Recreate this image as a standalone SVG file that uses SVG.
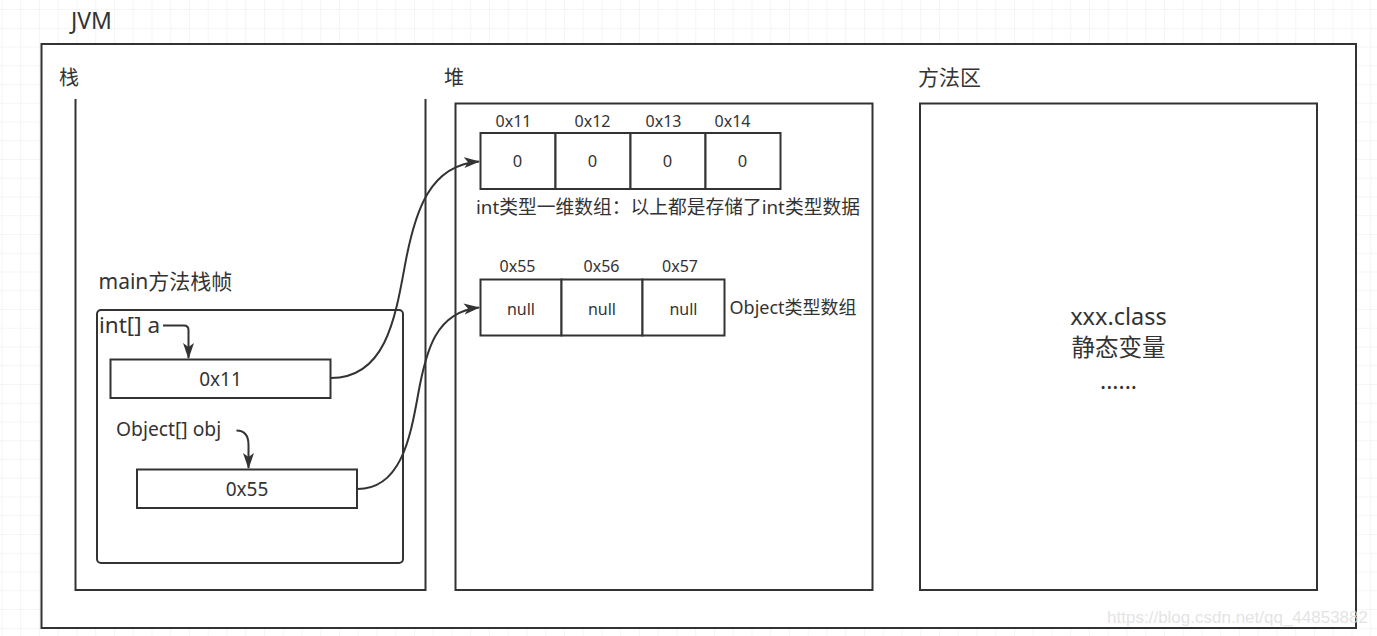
<svg xmlns="http://www.w3.org/2000/svg" width="1377" height="636" viewBox="0 0 1377 636">
<defs>
<pattern id="grid" x="1.5" y="9" width="18.75" height="18.75" patternUnits="userSpaceOnUse">
<path d="M18.75 0 L0 0 L0 18.75" fill="none" stroke="#ececec" stroke-width="1"/>
</pattern>
<marker id="arr" markerUnits="userSpaceOnUse" markerWidth="18" markerHeight="12" refX="15" refY="6" orient="auto" viewBox="0 0 18 12">
<path d="M0,0.5 L16,6 L0,11.5 L4,6 Z" fill="#333"/>
</marker>
<style>
.box{fill:#fff;stroke:#333;stroke-width:2}
.ln{fill:none;stroke:#333;stroke-width:2}
.t{font-family:"Noto Sans","Noto Sans CJK SC",sans-serif;fill:#333}
.m{text-anchor:middle}
.edge{fill:none;stroke:#333;stroke-width:2;marker-end:url(#arr)}
</style>
</defs>
<rect width="1377" height="636" fill="#fff"/>
<rect width="1377" height="636" fill="url(#grid)"/>

<g id="jvm">
<rect class="box" x="41.5" y="44" width="1314.5" height="584"/>
<text class="t" x="71" y="29" font-size="23">JVM</text>
</g>

<g id="stack">
<path class="ln" d="M75.5,99 L75.5,590 L425.5,590 L425.5,99"/>
<text class="t" x="59" y="85" font-size="20">栈</text>
</g>

<g id="frame">
<rect class="ln" x="97" y="310" width="306" height="253" rx="4"/>
<text class="t" x="98.5" y="289" font-size="21">main方法栈帧</text>
</g>

<g id="var-a">
<text class="t" x="99" y="333" font-size="22.5">int[] a</text>
</g>
<g id="box-0x11">
<rect class="box" x="110.5" y="359.5" width="220" height="38.5"/>
<text class="t m" x="220.5" y="386" font-size="19">0x11</text>
</g>
<g id="var-obj">
<text class="t" x="116" y="436" font-size="19.3">Object[] obj</text>
</g>
<g id="box-0x55">
<rect class="box" x="137" y="469.5" width="220" height="38.5"/>
<text class="t m" x="247" y="496" font-size="19">0x55</text>
</g>

<g id="heap">
<rect class="box" x="455.5" y="103.5" width="417" height="486.5"/>
<text class="t" x="444" y="85" font-size="20">堆</text>
</g>

<g id="int-array">
<rect class="box" x="480.5" y="133" width="75" height="56"/>
<rect class="box" x="555.5" y="133" width="75" height="56"/>
<rect class="box" x="630.5" y="133" width="75" height="56"/>
<rect class="box" x="705.5" y="133" width="75" height="56"/>
<text class="t m" x="517.5" y="167" font-size="16.5">0</text>
<text class="t m" x="592.5" y="167" font-size="16.5">0</text>
<text class="t m" x="667.5" y="167" font-size="16.5">0</text>
<text class="t m" x="742.5" y="167" font-size="16.5">0</text>
<text class="t m" x="513.5" y="126.5" font-size="16">0x11</text>
<text class="t m" x="592.5" y="126.5" font-size="16">0x12</text>
<text class="t m" x="663.5" y="126.5" font-size="16">0x13</text>
<text class="t m" x="732.5" y="126.5" font-size="16">0x14</text>
<text class="t" x="476" y="213.5" font-size="18.75">int类型一维数组：以上都是存储了int类型数据</text>
</g>

<g id="obj-array">
<rect class="box" x="480.5" y="279.5" width="81" height="56"/>
<rect class="box" x="561.5" y="279.5" width="81" height="56"/>
<rect class="box" x="642.5" y="279.5" width="82" height="56"/>
<text class="t m" x="521" y="314.5" font-size="16">null</text>
<text class="t m" x="602" y="314.5" font-size="16">null</text>
<text class="t m" x="683.5" y="314.5" font-size="16">null</text>
<text class="t m" x="517.5" y="271.5" font-size="16">0x55</text>
<text class="t m" x="601.5" y="271.5" font-size="16">0x56</text>
<text class="t m" x="680" y="271.5" font-size="16">0x57</text>
<text class="t" x="729.5" y="314" font-size="18">Object类型数组</text>
</g>

<g id="method-area">
<rect class="box" x="920" y="103.5" width="397" height="486.5"/>
<text class="t" x="918" y="85" font-size="21">方法区</text>
<text class="t m" x="1118.5" y="325" font-size="23.5">xxx.class</text>
<text class="t m" x="1118.5" y="356" font-size="23.5">静态变量</text>
<text class="t m" x="1118.5" y="389" font-size="23">......</text>
</g>

<g id="connectors">
<path class="edge" d="M163,325.5 L184,325.5 Q188.5,325.5 188.5,330 L188.5,358"/>
<path class="edge" d="M236.5,430.5 C245,430.5 248.5,436 248.5,445 L248.5,468"/>
<path class="edge" d="M331,378 C385,378 395,320 405,265 S430,165 479,161.5"/>
<path class="edge" d="M357.5,489 C400,489 410,440 418,395 S436,312 479,307.5"/>
</g>

<text x="1368" y="623" font-family="Liberation Sans, sans-serif" font-size="17" text-anchor="end" fill="#dedede" fill-opacity="0.85">https://blog.csdn.net/qq_44853882</text>
</svg>
